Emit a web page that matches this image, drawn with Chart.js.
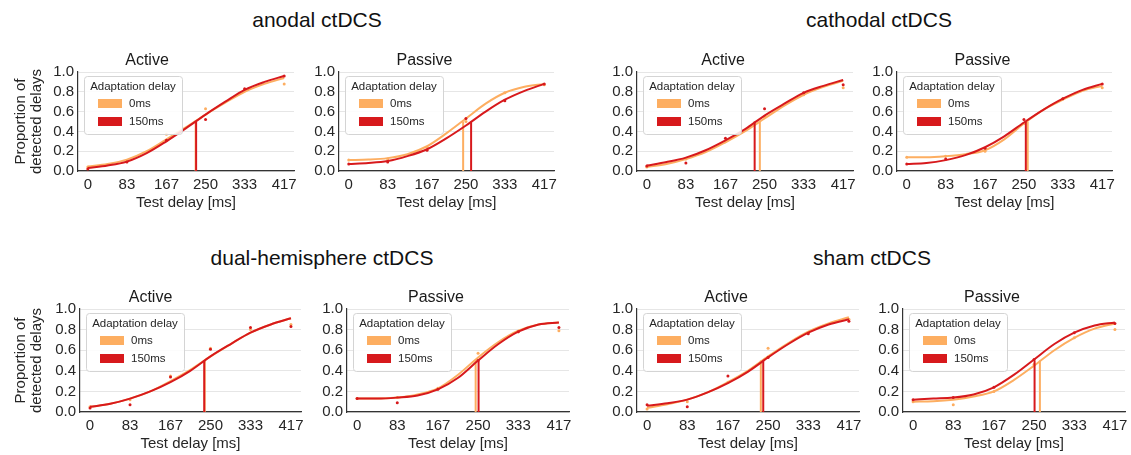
<!DOCTYPE html>
<html>
<head>
<meta charset="utf-8">
<script src="https://cdn.jsdelivr.net/npm/chart.js@4.4.1/dist/chart.umd.min.js"></script>
<style>
  body { margin: 0; background: #fff; width: 1131px; height: 455px; overflow: hidden; position: relative;
         font-family: "Liberation Sans", Arial, sans-serif; }
  canvas { position: absolute; }
  .group { position: absolute; font-size: 21px; line-height: 24px; color: #111; white-space: nowrap;
           transform: translateX(-50%); }
</style>
</head>
<body>
<script>
// x positions of the measured points and of the sampled fit curves
const testDelays = [0, 83, 167, 250, 333, 417];
const fitDelays = [0, 42, 83, 125, 167, 208, 250, 292, 333, 375, 417];
const delayLabels = ['0ms', '150ms'];
const thresholdLevel = 0.5;

// anodal ctDCS
const anodalActiveFit0 = [0.045, 0.07, 0.115, 0.20, 0.32, 0.44, 0.57, 0.69, 0.80, 0.88, 0.94];
const anodalActiveFit150 = [0.03, 0.055, 0.095, 0.18, 0.30, 0.43, 0.57, 0.70, 0.82, 0.90, 0.96];
const anodalActiveDots0 = [0.04, 0.10, 0.37, 0.63, 0.82, 0.88];
const anodalActiveDots150 = [0.02, 0.09, 0.31, 0.52, 0.83, 0.96];
const anodalActiveThr = [229, 230];

const anodalPassiveFit0 = [0.11, 0.115, 0.13, 0.17, 0.25, 0.38, 0.53, 0.68, 0.79, 0.85, 0.88];
const anodalPassiveFit150 = [0.07, 0.08, 0.10, 0.15, 0.22, 0.33, 0.46, 0.60, 0.72, 0.81, 0.88];
const anodalPassiveDots0 = [0.11, 0.12, 0.24, 0.50, 0.79, 0.87];
const anodalPassiveDots150 = [0.07, 0.09, 0.21, 0.53, 0.71, 0.88];
const anodalPassiveThr = [244, 261];

// cathodal ctDCS
const cathodalActiveFit0 = [0.04, 0.07, 0.12, 0.19, 0.29, 0.40, 0.53, 0.66, 0.77, 0.85, 0.91];
const cathodalActiveFit150 = [0.055, 0.09, 0.135, 0.21, 0.31, 0.42, 0.56, 0.68, 0.79, 0.86, 0.92];
const cathodalActiveDots0 = [0.04, 0.12, 0.30, 0.55, 0.77, 0.84];
const cathodalActiveDots150 = [0.05, 0.08, 0.33, 0.63, 0.79, 0.87];
const cathodalActiveThr = [240, 229];

const cathodalPassiveFit0 = [0.14, 0.14, 0.15, 0.17, 0.21, 0.32, 0.48, 0.62, 0.72, 0.81, 0.86];
const cathodalPassiveFit150 = [0.07, 0.08, 0.11, 0.16, 0.24, 0.35, 0.49, 0.62, 0.73, 0.82, 0.88];
const cathodalPassiveDots0 = [0.14, 0.15, 0.20, 0.48, 0.73, 0.84];
const cathodalPassiveDots150 = [0.07, 0.12, 0.23, 0.52, 0.73, 0.88];
const cathodalPassiveThr = [258, 254];

// dual-hemisphere ctDCS
const dualActiveFit0 = [0.05, 0.08, 0.13, 0.20, 0.30, 0.41, 0.54, 0.66, 0.77, 0.85, 0.91];
const dualActiveFit150 = [0.05, 0.08, 0.13, 0.20, 0.29, 0.40, 0.54, 0.66, 0.77, 0.85, 0.91];
const dualActiveDots0 = [0.05, 0.12, 0.35, 0.62, 0.80, 0.85];
const dualActiveDots150 = [0.04, 0.07, 0.34, 0.61, 0.82, 0.83];
const dualActiveThr = [238, 237];

const dualPassiveFit0 = [0.13, 0.13, 0.14, 0.17, 0.23, 0.36, 0.53, 0.68, 0.79, 0.85, 0.87];
const dualPassiveFit150 = [0.13, 0.13, 0.14, 0.16, 0.22, 0.33, 0.50, 0.66, 0.78, 0.85, 0.87];
const dualPassiveDots0 = [0.13, 0.14, 0.23, 0.57, 0.78, 0.79];
const dualPassiveDots150 = [0.13, 0.09, 0.22, 0.50, 0.78, 0.82];
const dualPassiveThr = [245, 251];

// sham ctDCS
const shamActiveFit0 = [0.04, 0.075, 0.12, 0.19, 0.29, 0.40, 0.54, 0.67, 0.78, 0.86, 0.92];
const shamActiveFit150 = [0.06, 0.085, 0.12, 0.19, 0.28, 0.39, 0.53, 0.66, 0.77, 0.85, 0.90];
const shamActiveDots0 = [0.03, 0.10, 0.29, 0.62, 0.77, 0.90];
const shamActiveDots150 = [0.07, 0.05, 0.35, 0.53, 0.76, 0.88];
const shamActiveThr = [235, 240];

const shamPassiveFit0 = [0.10, 0.105, 0.12, 0.15, 0.20, 0.31, 0.45, 0.60, 0.72, 0.81, 0.86];
const shamPassiveFit150 = [0.12, 0.13, 0.14, 0.17, 0.24, 0.36, 0.51, 0.66, 0.77, 0.84, 0.87];
const shamPassiveDots0 = [0.10, 0.07, 0.20, 0.46, 0.72, 0.80];
const shamPassiveDots150 = [0.12, 0.14, 0.24, 0.51, 0.77, 0.86];
const shamPassiveThr = [262, 251];

const ORANGE = '#fdae61';
const RED = '#d7191c';
const FONT = '"Liberation Sans", Arial, sans-serif';
const TEXT = '#262626';

Chart.defaults.font.family = FONT;
Chart.defaults.color = TEXT;

const groupTitles = [
    { text: 'anodal ctDCS', x: 317, y: 8 },
    { text: 'cathodal ctDCS', x: 879, y: 8 },
    { text: 'dual-hemisphere ctDCS', x: 322, y: 246 },
    { text: 'sham ctDCS', x: 872, y: 246 }
];

// chart area of every panel, in page pixels
const panels = [
    { title: 'Active',  fit0: anodalActiveFit0,    fit150: anodalActiveFit150,    dots0: anodalActiveDots0,    dots150: anodalActiveDots150,    thr: anodalActiveThr,    area: [78, 294, 72, 171], ylabel: true },
    { title: 'Passive', fit0: anodalPassiveFit0,   fit150: anodalPassiveFit150,   dots0: anodalPassiveDots0,   dots150: anodalPassiveDots150,   thr: anodalPassiveThr,   area: [339, 554, 72, 171] },
    { title: 'Active',  fit0: cathodalActiveFit0,  fit150: cathodalActiveFit150,  dots0: cathodalActiveDots0,  dots150: cathodalActiveDots150,  thr: cathodalActiveThr,  area: [637, 853, 72, 171] },
    { title: 'Passive', fit0: cathodalPassiveFit0, fit150: cathodalPassiveFit150, dots0: cathodalPassiveDots0, dots150: cathodalPassiveDots150, thr: cathodalPassiveThr, area: [897, 1112, 72, 171] },
    { title: 'Active',  fit0: dualActiveFit0,      fit150: dualActiveFit150,      dots0: dualActiveDots0,      dots150: dualActiveDots150,      thr: dualActiveThr,      area: [80, 301, 309, 412], ylabel: true },
    { title: 'Passive', fit0: dualPassiveFit0,     fit150: dualPassiveFit150,     dots0: dualPassiveDots0,     dots150: dualPassiveDots150,     thr: dualPassiveThr,     area: [347, 569, 309, 412] },
    { title: 'Active',  fit0: shamActiveFit0,      fit150: shamActiveFit150,      dots0: shamActiveDots0,      dots150: shamActiveDots150,      thr: shamActiveThr,      area: [637, 859, 309, 412] },
    { title: 'Passive', fit0: shamPassiveFit0,     fit150: shamPassiveFit150,     dots0: shamPassiveDots0,     dots150: shamPassiveDots150,     thr: shamPassiveThr,     area: [903, 1125, 309, 412] }
];

const TITLE_H = 25;   // subplot title box
const XAXIS_H = 41;   // x ticks + x axis title
const RIGHT_PAD = 14;

groupTitles.forEach(g => {
    const div = document.createElement('div');
    div.className = 'group';
    div.textContent = g.text;
    div.style.left = g.x + 'px';
    div.style.top = g.y + 'px';
    document.body.appendChild(div);
});

const toPoints = (xs, ys) => ys.map((y, i) => ({ x: xs[i], y }));

// boxed legend in the upper left corner of the plot area
const legendPlugin = {
    id: 'adaptLegend',
    afterDatasetsDraw(chart) {
        const { ctx, chartArea: a } = chart;
        const x = a.left + 6, y = a.top + 4, w = 98, h = 58;
        ctx.save();
        ctx.beginPath();
        if (ctx.roundRect) ctx.roundRect(x + 0.5, y + 0.5, w, h, 3);
        else ctx.rect(x + 0.5, y + 0.5, w, h);
        ctx.fillStyle = 'rgba(255,255,255,0.85)';
        ctx.fill();
        ctx.strokeStyle = '#d4d4d4';
        ctx.lineWidth = 1;
        ctx.stroke();
        ctx.font = '11.5px ' + FONT;
        ctx.fillStyle = TEXT;
        ctx.textBaseline = 'middle';
        ctx.textAlign = 'center';
        ctx.fillText('Adaptation delay', x + w / 2, y + 11);
        ctx.textAlign = 'left';
        [ORANGE, RED].forEach((c, i) => {
            ctx.fillStyle = c;
            ctx.fillRect(x + 14, y + 23 + i * 18, 24, 9);
            ctx.fillStyle = TEXT;
            ctx.fillText(delayLabels[i], x + 45, y + 28 + i * 18);
        });
        ctx.restore();
    }
};

panels.forEach(p => {
    const [left, right, top, bottom] = p.area;
    const yw = p.ylabel ? left : 44;
    const canvas = document.createElement('canvas');
    const cw = yw + (right - left) + RIGHT_PAD;
    const ch = TITLE_H + (bottom - top) + XAXIS_H;
    canvas.width = cw;
    canvas.height = ch;
    canvas.style.width = cw + 'px';
    canvas.style.height = ch + 'px';
    canvas.style.left = (left - yw) + 'px';
    canvas.style.top = (top - TITLE_H) + 'px';
    document.body.appendChild(canvas);

    const fitLine = (ys, color) => ({
        data: toPoints(fitDelays, ys), showLine: true, borderColor: color, borderWidth: 2,
        pointRadius: 0, cubicInterpolationMode: 'monotone'
    });
    const thrLine = (t, color) => ({
        data: [{ x: t, y: 0 }, { x: t, y: thresholdLevel }], showLine: true,
        borderColor: color, borderWidth: 2, pointRadius: 0
    });
    const dots = (ys, color) => ({
        data: toPoints(testDelays, ys), showLine: false, pointRadius: 1.5,
        pointBorderWidth: 0, backgroundColor: color, borderColor: color
    });

    new Chart(canvas, {
        type: 'scatter',
        data: {
            datasets: [
                fitLine(p.fit150, RED), thrLine(p.thr[1], RED), dots(p.dots150, RED),
                fitLine(p.fit0, ORANGE), thrLine(p.thr[0], ORANGE), dots(p.dots0, ORANGE)
            ]
        },
        options: {
            responsive: false,
            devicePixelRatio: 1,
            animation: false,
            layout: { padding: { left: 0, right: RIGHT_PAD, top: 0, bottom: 0 } },
            plugins: {
                legend: { display: false },
                tooltip: { enabled: false },
                title: {
                    display: true, text: p.title, color: '#1a1a1a',
                    font: { size: 16, weight: 'normal', lineHeight: 1.25 },
                    padding: { top: 4, bottom: 1 }
                }
            },
            scales: {
                x: {
                    type: 'linear', min: -20.85, max: 437.85,
                    afterBuildTicks: s => { s.ticks = testDelays.map(v => ({ value: v })); },
                    afterFit: s => { s.height = XAXIS_H; },
                    ticks: { font: { size: 15 }, color: TEXT, padding: 5, maxRotation: 0, autoSkip: false,
                             callback: v => String(v) },
                    grid: { drawOnChartArea: false, drawTicks: false },
                    border: { color: '#333', width: 1.2 },
                    title: { display: true, text: 'Test delay [ms]', color: TEXT,
                             font: { size: 15, lineHeight: 1.2 }, padding: { top: 0, bottom: 0 } }
                },
                y: {
                    min: 0, max: 1,
                    afterFit: s => { s.width = yw; },
                    ticks: { stepSize: 0.2, autoSkip: false, font: { size: 15 }, color: TEXT, padding: 4,
                             callback: v => v.toFixed(1) },
                    grid: { color: '#e6e6e6', drawTicks: false },
                    border: { color: '#333', width: 1.2 },
                    title: { display: !!p.ylabel, text: ['Proportion of', 'detected delays'], color: TEXT,
                             font: { size: 15, lineHeight: 1.07 }, padding: { top: 13, bottom: 0 } }
                }
            }
        },
        plugins: [legendPlugin]
    });
});
</script>
</body>
</html>
